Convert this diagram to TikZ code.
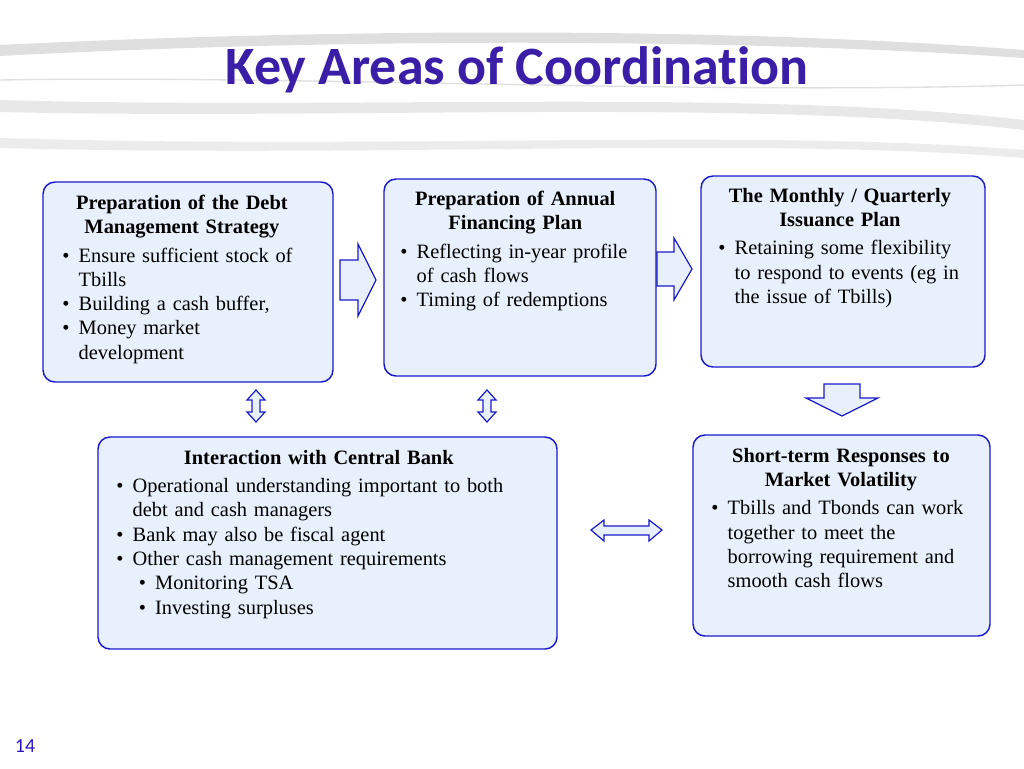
\documentclass[tikz,border=0pt]{standalone}
\usepackage{fontspec}
\setmainfont{Liberation Serif}
\newfontfamily\titlefont{Carlito}
\newenvironment{blist}{\begin{list}{\textbullet}{\leftmargin=1.15em\labelwidth=0.7em\labelsep=0.45em\itemsep=0pt\parsep=0pt\topsep=3pt\partopsep=0pt}}{\end{list}}
\definecolor{bbord}{HTML}{1A1ACC}
\definecolor{bfill}{HTML}{E8F0FC}
\definecolor{ttl}{HTML}{3A1EA8}
\begin{document}
\begin{tikzpicture}[x=0.75pt,y=-0.75pt,
  box/.style={draw=bbord,fill=bfill,rounded corners=9pt,line width=1.1pt},
  txt/.style={anchor=north west,inner sep=0pt,align=left,font=\fontsize{15.3}{18.2}\selectfont},
  arr/.style={draw=bbord,fill=bfill,line width=0.9pt,line join=miter}]
\useasboundingbox (0,0) rectangle (1024,768);
% background swooshes
\begin{scope}[line cap=round]
\fill[gray!25] (0,45) .. controls (300,30) and (700,25) .. (1024,50) -- (1024,58) .. controls (700,36) and (300,40) .. (0,56) -- cycle;
\fill[gray!18] (0,100) .. controls (350,110) and (750,88) .. (1024,120) -- (1024,130) .. controls (750,98) and (350,120) .. (0,112) -- cycle;
\fill[gray!15] (0,138) .. controls (400,150) and (750,128) .. (1024,150) -- (1024,158) .. controls (750,136) and (400,158) .. (0,148) -- cycle;
\draw[gray!25,line width=1pt] (0,80) .. controls (300,75) and (700,95) .. (1024,85);
\end{scope}
\node[font=\titlefont\bfseries\fontsize{40.5}{46}\selectfont,text=ttl] (title) at (517,70) {Key Areas of Coordinat\kern0pt ion};
\node[font=\titlefont\fontsize{15}{18}\selectfont,text=ttl!70!blue] (pg) at (25,746) {14};
% boxes
\draw[box] (43,182) rectangle (333,382);
\draw[box] (384,179) rectangle (656,376);
\draw[box] (701,176) rectangle (985,367);
\draw[box] (98,437) rectangle (557,649);
\draw[box] (693,435) rectangle (990,636);
% box texts
\node[txt,text width=190pt] (t1) at (55,195) {\centering\textbf{Preparation of the Debt\\Management Strategy}\par
\begin{blist}\item Ensure sufficient stock of Tbills \item Building a cash buffer, \item Money market development\end{blist}};
\node[txt,text width=183pt] (t2) at (393,191) {\centering\textbf{Preparation of Annual\\Financing Plan}\par
\begin{blist}\item Reflecting in-year profile of cash flows \item Timing of redemptions\end{blist}};
\node[txt,text width=193pt] (t3) at (711,188) {\centering\textbf{The Monthly / Quarterly\\Issuance Plan}\par
\begin{blist}\item Retaining some flexibility to respond to events (eg in the issue of Tbills)\end{blist}};
\node[txt,text width=325pt] (t4) at (109,450) {\hspace*{56pt}\textbf{Interaction with Central Bank}\par
\begin{blist}\item Operational understanding important to both debt and cash managers \item Bank may also be fiscal agent \item Other cash management requirements
\begin{list}{\textbullet}{\leftmargin=1.1em\labelwidth=0.7em\labelsep=0.45em\itemsep=0pt\parsep=0pt\topsep=0pt\partopsep=0pt}\item Monitoring TSA \item Investing surpluses\end{list}\end{blist}};
\node[txt,text width=205pt] (t5) at (704,448) {\centering\textbf{Short-term Responses to\\Market Volatility}\par
\begin{blist}\item Tbills and Tbonds can work together to meet the borrowing requirement and smooth cash flows\end{blist}};
% right arrows
\draw[arr] (340,260) -- (358,260) -- (358,244) -- (376,280) -- (358,316) -- (358,300) -- (340,300) -- cycle;
\draw[arr] (657,252) -- (674,252) -- (674,238) -- (692,269) -- (674,300) -- (674,286) -- (657,286) -- cycle;
% down arrow
\draw[arr] (824,384) -- (860,384) -- (860,398) -- (878,398) -- (842,416) -- (806,398) -- (824,398) -- cycle;
% vertical double arrows
\foreach \x in {256,487}{
\draw[arr] (\x,390) -- (\x+9,400) -- (\x+4,400) -- (\x+4,412) -- (\x+9,412) -- (\x,422) -- (\x-9,412) -- (\x-4,412) -- (\x-4,400) -- (\x-9,400) -- cycle;}
% horizontal double arrow
\draw[arr] (591,530) -- (604,520) -- (604,526) -- (649,526) -- (649,520) -- (662,530) -- (649,541) -- (649,535) -- (604,535) -- (604,541) -- cycle;
\end{tikzpicture}
\end{document}
